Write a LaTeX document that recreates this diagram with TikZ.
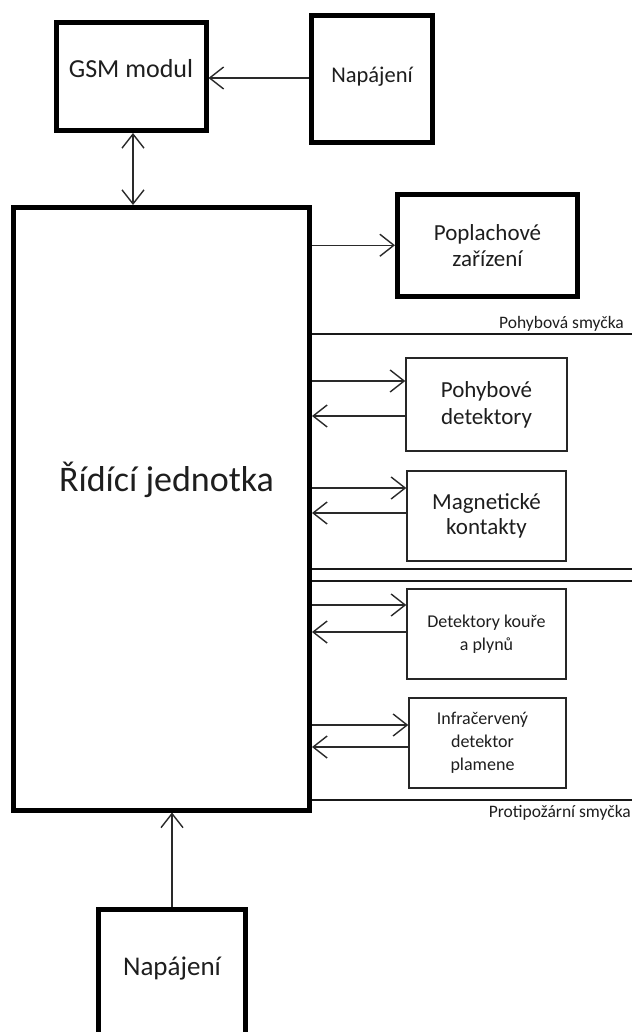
\documentclass[tikz,border=0pt]{standalone}
\usepackage{fontspec}
\setmainfont{Carlito}
\usetikzlibrary{arrows.meta}
\definecolor{txt}{HTML}{1E1E1E}
\definecolor{arrc}{HTML}{2A2A2A}
\begin{document}
\begin{tikzpicture}[x=1pt,y=-1pt,
  thickbox/.style={draw=black,line width=5pt,fill=white,inner sep=0pt,align=center,text=txt},
  thinbox/.style={draw=black!85,line width=1.5pt,fill=white,inner sep=0pt,align=center,text=txt},
  arr/.style={draw=arrc,line width=1.4pt,-{Straight Barb[length=14pt,width=22pt,line width=1.4pt]}},
  darr/.style={draw=arrc,line width=1.4pt,{Straight Barb[length=14pt,width=22pt,line width=1.4pt]}-{Straight Barb[length=14pt,width=22pt,line width=1.4pt]}},
  loopline/.style={draw=black!90,line width=1.5pt},
  looplabel/.style={text=txt,inner sep=0pt,font=\fontsize{17.5pt}{20pt}\selectfont}
]
\useasboundingbox (0,0) rectangle (632,1032);
\fill[white] (0,0) rectangle (632,1032);

% main boxes
\node[thickbox,minimum width=150pt,minimum height=108pt,text height=3pt,text depth=0pt,font=\fontsize{26pt}{30pt}\selectfont] (gsm) at (131,76.5) {GSM modul};
\node[thickbox,minimum width=121pt,minimum height=127.5pt,text height=7.5pt,text depth=0pt,font=\fontsize{22.5pt}{27pt}\selectfont] (napT) at (372,79.25) {Napájení};
\node[thickbox,minimum width=296pt,minimum height=602.5pt,text height=0pt,text depth=35.5pt,font=\fontsize{36pt}{42pt}\selectfont] (main) at (161.5,508.75) {\hspace*{10pt}Řídící jednotka};
\node[thickbox,minimum width=180pt,minimum height=101.5pt,font=\fontsize{23pt}{26pt}\selectfont] (pop) at (487.5,245.25) {Poplachové\\zařízení};
\node[thickbox,anchor=north,minimum width=147pt,minimum height=160pt,text height=0pt,text depth=27pt,font=\fontsize{27pt}{30pt}\selectfont] (napB) at (172,906.5) {Napájení};

% detector boxes
\node[thinbox,minimum width=161pt,minimum height=93pt,font=\fontsize{23pt}{27pt}\selectfont] (pohyb) at (486.5,404.5) {Pohybové\\detektory};
\node[thinbox,minimum width=159pt,minimum height=90pt,font=\fontsize{23pt}{25pt}\selectfont] (magn) at (486.5,516) {Magnetické\\kontakty};
\node[thinbox,minimum width=159pt,minimum height=90pt,font=\fontsize{18pt}{23pt}\selectfont] (kour) at (486.5,634) {\raisebox{-4pt}{\begin{tabular}{@{}c@{}}Detektory kouře\\a plynů\end{tabular}}};
\node[thinbox,minimum width=157pt,minimum height=90pt,font=\fontsize{18pt}{23pt}\selectfont] (infra) at (487.5,743) {\hspace*{-10pt}\raisebox{-4pt}{\begin{tabular}{@{}c@{}}Infračervený\\detektor\\plamene\end{tabular}}};

% top connectors
\draw[arr] (napT.west |- 0,78) -- (gsm.east |- 0,78);
\draw[darr] (gsm.south -| 133,0) -- (main.north -| 133,0);
\draw[arr] (main.east |- pop.west) -- (pop.west);
\draw[arr] (napB.north) -- (main.south -| napB.north);

% loop lines
\coordinate (l1) at (632,334);
\coordinate (l2) at (632,569);
\coordinate (l3) at (632,581);
\coordinate (l4) at (632,800);
\draw[loopline] (main.east |- l1) -- (l1);
\draw[loopline] (main.east |- l2) -- (l2);
\draw[loopline] (main.east |- l3) -- (l3);
\draw[loopline] (main.east |- l4) -- (l4);
\node[looplabel,anchor=base east] (lab1) at (624,328) {Pohybová smyčka};
\node[looplabel,anchor=base east] (lab2) at (631,817) {Protipožární smyčka};

% detector connectors
\draw[arr] (main.east |- 0,381) -- (pohyb.west |- 0,381);
\draw[arr] (pohyb.west |- 0,416) -- (main.east |- 0,416);
\draw[arr] (main.east |- 0,488) -- (magn.west |- 0,488);
\draw[arr] (magn.west |- 0,513) -- (main.east |- 0,513);
\draw[arr] (main.east |- 0,605) -- (kour.west |- 0,605);
\draw[arr] (kour.west |- 0,632) -- (main.east |- 0,632);
\draw[arr] (main.east |- 0,725) -- (infra.west |- 0,725);
\draw[arr] (infra.west |- 0,747) -- (main.east |- 0,747);
\end{tikzpicture}
\end{document}
